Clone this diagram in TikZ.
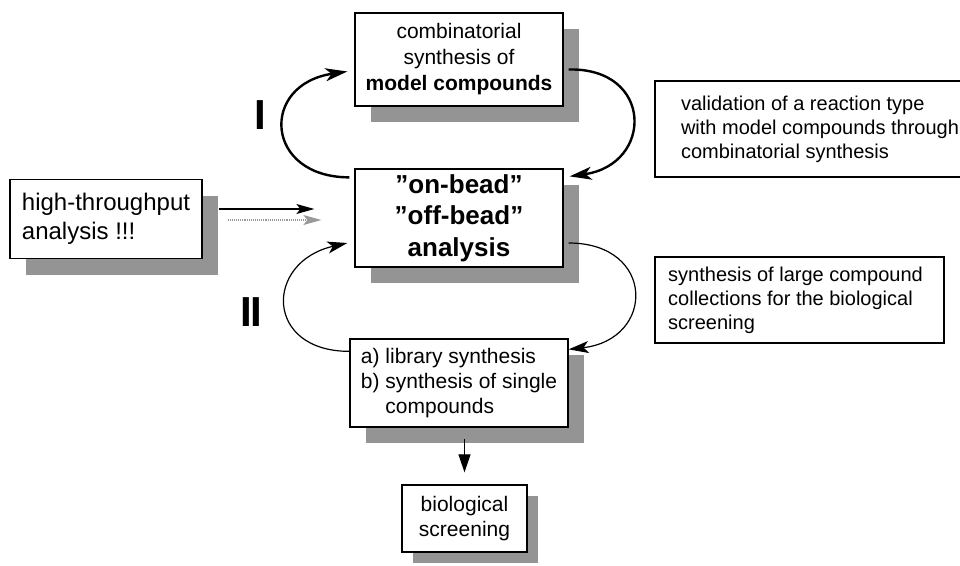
\documentclass[tikz,border=0pt]{standalone}
\usepackage{fontspec}
\setmainfont{Liberation Sans}
\usetikzlibrary{arrows.meta,positioning,shadows}

\begin{document}
\begin{tikzpicture}[x=1pt, y=-1pt,
  font=\fontsize{21}{26}\selectfont,
  box/.style={draw, line width=1.3pt, fill=white, inner sep=0pt,
              drop shadow={shadow xshift=#1, shadow yshift=-#1, fill=black!42, opacity=1}},
  box/.default=16pt,
  note/.style={draw, line width=1.2pt, fill=white, inner sep=0pt,
               align=left, font=\fontsize{20}{24}\selectfont},
  roman/.style={font=\fontsize{42}{42}\selectfont\bfseries, inner sep=0pt},
  loopa/.style={line width=2.4pt, -{Stealth[length=22pt, width=13pt, inset=6pt]}},
  loopb/.style={line width=1.2pt, -{Stealth[length=20pt, width=12pt, inset=5pt]}},
  arr/.style={line width=1.1pt, -{Stealth[length=18pt, width=10pt, inset=4pt]}}]
 \useasboundingbox (0,0) rectangle (960,565);
 \clip (0,0) rectangle (960,565);
 % central cycle
 \node[box, minimum width=208pt, minimum height=93pt, align=center] (synth) at (459,59.5)
      {combinatorial\\synthesis of\\\textbf{model compounds}};
 \node[box, minimum width=208pt, minimum height=98pt, align=center,
       font=\fontsize{26}{31.5}\selectfont\bfseries] (anal) at (459,218)
      {”on-bead”\\”off-bead”\\analysis};
 \node[box, minimum width=218pt, minimum height=88pt, align=left,
       font=\fontsize{21}{25}\selectfont] (lib) at (459,383)
      {a) library synthesis\\b) synthesis of single\\\phantom{b) }compounds};
 \node[box=11pt, minimum width=125pt, minimum height=67pt, align=center,
       font=\fontsize{21}{25}\selectfont] (bio) at (464.5,518.5)
      {biological\\screening};
 \node[box, minimum width=192pt, minimum height=79pt, align=left,
       font=\fontsize{24}{29}\selectfont] (hts) at (106,219)
      {high-throughput\\analysis !!!};
 % comments on the right
 \node[note, minimum width=330pt, minimum height=96pt] (valid) at (820,129)
      {validation of a reaction type\\with model compounds through\\combinatorial synthesis\hspace*{45pt}};
 \node[note, minimum width=289pt, minimum height=86pt] (coll) at (799.5,300)
      {synthesis of large compound\hspace*{8pt}\\collections for the biological\\screening};
 \node[roman] (one) at (260,115) {I};
 \node[roman] (two) at (251.5,312) {I\kern-2pt I};
 % loop I
 \draw[loopa] ([shift={(-5,9)}]anal.north west) .. controls +(-85,0) and +(-88,13) .. ([shift={(-7,12)}]synth.west);
 \draw[loopa] ([shift={(5,10)}]synth.east) .. controls +(85,-2) and +(84,-12) .. ([shift={(6,8)}]anal.north east);
 % loop II
 \draw[loopb] ([shift={(0,13)}]lib.north west) .. controls +(-85,0) and +(-83,19) .. ([shift={(-7,25)}]anal.west);
 \draw[loopb] ([shift={(5,25)}]anal.east) .. controls +(87,0) and +(87,-10) .. ([shift={(0,11)}]lib.north east);
 % input and output
 \draw[arr, draw=black!40, densely dotted] ([shift={(25,1)}]hts.east) -- ([shift={(-33,2)}]anal.west);
 \draw[arr] ([shift={(16,-10)}]hts.east) -- ([shift={(-40,-9)}]anal.west);
 \draw[line width=1.1pt, -{Triangle[length=18pt, width=12pt]}] ([shift={(5.5,11)}]lib.south) -- ([yshift=12pt]bio.north);
\end{tikzpicture}
\end{document}
